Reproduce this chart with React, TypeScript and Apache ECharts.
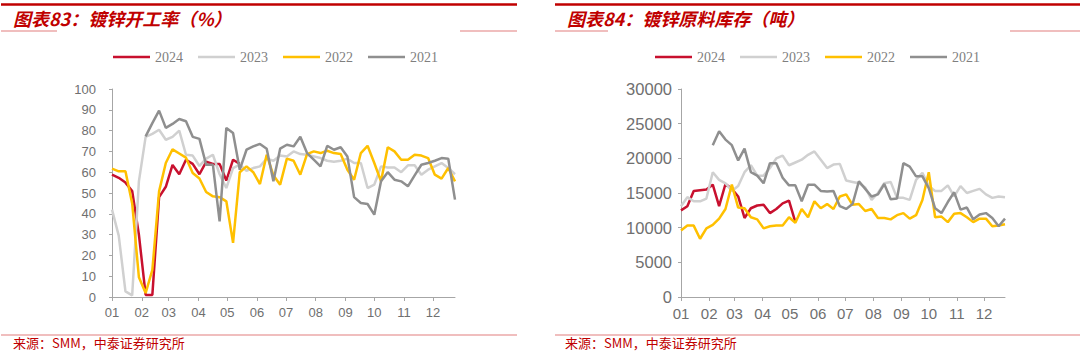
import React, { useEffect, useRef } from 'react';
import * as echarts from 'echarts';

// ---------- data ----------
const monthLabels = ['01', '02', '03', '04', '05', '06', '07', '08', '09', '10', '11', '12'];
const seriesNames = ['2024', '2023', '2022', '2021'];

// 镀锌开工率 (%) weekly
const rate2024 = [58.8, 57.3, 55, 51, 30, 1, 1, 48, 53, 63.5, 59, 66, 64, 59, 65, 64, 64, 56, 66, 64];
const rate2023 = [42, 29.5, 2.7, 0.8, 55.6, 77, 78.4, 80.4, 75.6, 77, 80, 68.4, 68, 63, 66.5, 68.4, 59, 52.4, 62, 63.6,
  60.7, 62, 62.8, 66.5, 65.5, 68, 67.6, 70, 68.7, 68.4, 67.6, 66.8, 65.5, 65, 65.5, 66.5, 64.4, 64.4, 52.4, 54,
  62.8, 62.3, 62.3, 60, 63.3, 63.3, 58.8, 61.2, 62.8, 64.4, 62, 59];
const rate2022 = [61.7, 60.4, 60.4, 45, 9.5, 1.9, 13, 50.8, 64.4, 71, 69, 67, 59.6, 57, 50.5, 48.4, 48, 46, 26, 60,
  62.8, 60, 54.3, 68.4, 58.5, 54, 66.5, 65.5, 58.8, 68.7, 70, 69.2, 70.3, 69.2, 68.7, 61.2, 56.4, 69.2, 72.7, 64.4,
  55.6, 72, 70, 66, 66, 68.4, 68, 66.8, 58.8, 56.9, 62, 55.6];
const rate2021 = [null, null, null, null, null, 77.2, 83.6, 89.6, 81.3, 83.2, 85.6, 84.5, 77, 76, 63.6, 63.6, 36.4, 81.3,
  78.8, 61.2, 70.8, 72.4, 73.6, 71.3, 55.6, 71.3, 73.2, 72.4, 77, 69.2, 66, 62.8, 72.7, 70.8, 72, 67.6, 48, 45.2,
  44.7, 39.6, 55.6, 60, 56.4, 55.6, 53.2, 58.5, 63.6, 64.4, 65.5, 66.8, 66.5, 46.8];

// 镀锌原料库存 (吨) weekly
const stock2024 = [12500, 13100, 15300, 15400, 15500, 16200, 13100, 16300, 15600, 14500, 11400, 12800, 13200, 13300,
  12100, 12700, 13500, 13900, 10800];
const stock2023 = [13100, 14400, 13800, 13800, 14200, 18000, 16900, 16400, 15300, 16000, 18000, 19000, 17500, 17500,
  18600, 20000, 20400, 19000, 19400, 19800, 20500, 21000, 19800, 18600, 19100, 19200, 16800, 16600, 16400, 15800,
  14000, 15000, 16400, 16600, 14300, 14300, 14000, 16900, 17900, 16000, 15300, 15300, 16100, 14500, 16000, 15000,
  15300, 15600, 14800, 14300, 14500, 14400];
const stock2022 = [9600, 10300, 10300, 8400, 9900, 10400, 11300, 12700, 16200, 12900, 12800, 11500, 11200, 9900, 10200,
  10300, 10300, 11500, 10700, 12700, 11500, 13800, 12800, 13400, 12700, 14500, 14800, 13300, 13400, 12400, 12700,
  11400, 11400, 11200, 11800, 12100, 11300, 11800, 14000, 18000, 11500, 11600, 10800, 12000, 12100, 11500, 10800,
  11300, 11300, 10200, 10300, 10500];
const stock2021 = [null, null, null, null, null, 21900, 23900, 22700, 21900, 19700, 21400, 18000, 17500, 16400, 19300,
  19300, 17200, 16100, 16100, 13800, 16200, 16200, 15300, 15200, 15300, 13100, 12700, 13400, 16700, 15600, 14500,
  14800, 16300, 14100, 14200, 19300, 18800, 17400, 17400, 15700, 12800, 12100, 13700, 15100, 12600, 12900, 11200,
  11900, 12100, 11400, 10200, 11300];

const leftTitle = '图表83：镀锌开工率（%）';
const rightTitle = '图表84：镀锌原料库存（吨）';
const sourceText = '来源：SMM，中泰证券研究所';

// ---------- helpers ----------
const DAY = 86400000;
const monthStarts = monthLabels.map((_, m) => (Date.UTC(2023, m, 1) - Date.UTC(2023, 0, 1)) / DAY);
const weekCount = rate2023.length;
const lastDay = (weekCount - 1) * 7;

const toPoints = (arr: (number | null)[]) =>
  arr.map((v, i) => (v == null ? null : [i * 7, v])).filter((p) => p !== null);

const colors = ['#C8102E', '#D0D0D0', '#FFC000', '#8F8F8F'];
const red = '#C00000';
const pink = '#EBA8A8';
const axisGray = '#A6A6A6';
const labelGray = '#6F6F6F';

export default function App() {
  const ref = useRef<HTMLDivElement>(null);

  useEffect(() => {
    if (!ref.current) return;
    const chart = echarts.init(ref.current, null, { renderer: 'svg' });

    const xAxis = (gridIndex: number, fontSize: number) => ({
      type: 'value',
      gridIndex,
      min: 0,
      max: lastDay,
      axisLine: { show: true, lineStyle: { color: axisGray, width: 1 } },
      axisTick: { show: true, customValues: monthStarts, length: 4, lineStyle: { color: axisGray } },
      axisLabel: {
        customValues: monthStarts,
        formatter: (v: number) => monthLabels[monthStarts.indexOf(v)] ?? '',
        color: labelGray,
        fontSize,
        fontFamily: 'Liberation Sans',
        margin: 9,
      },
      splitLine: { show: false },
    });

    const yAxis = (gridIndex: number, max: number, interval: number, fontSize: number, margin: number) => ({
      type: 'value',
      gridIndex,
      min: 0,
      max,
      interval,
      axisLine: { show: true, lineStyle: { color: axisGray, width: 1 } },
      axisTick: { show: true, length: 3, lineStyle: { color: axisGray } },
      axisLabel: {
        color: labelGray,
        fontSize,
        fontFamily: 'Liberation Sans',
        margin,
        formatter: (v: number) => String(v),
      },
      splitLine: { show: false },
    });

    const mkSeries = (data: (number | null)[][], gridIdx: number) =>
      data.map((arr, k) => ({
        name: seriesNames[k],
        type: 'line',
        xAxisIndex: gridIdx,
        yAxisIndex: gridIdx,
        data: toPoints(arr),
        symbol: 'none',
        showSymbol: false,
        lineStyle: { color: colors[k], width: 2.5 },
        itemStyle: { color: colors[k] },
      }));

    const legend = (left: number) => ({
      left,
      top: 45,
      icon: 'rect',
      itemWidth: 37,
      itemHeight: 2.5,
      itemGap: 15,
      data: seriesNames,
      textStyle: { fontFamily: 'Liberation Serif', fontSize: 14, color: '#7F7F7F' },
      selectedMode: false,
    });

    const hline = (x1: number, x2: number, y: number, color: string, w: number) => ({
      type: 'line',
      shape: { x1, y1: y, x2, y2: y },
      style: { stroke: color, lineWidth: w },
      silent: true,
    });

    const title = (x: number, text: string) => ({
      type: 'text',
      x,
      y: 18,
      style: {
        text,
        fill: red,
        fontSize: 18,
        fontWeight: 'bold',
        fontStyle: 'italic',
        fontFamily: 'Noto Sans CJK SC',
        verticalAlign: 'middle',
      },
    });

    const source = (x: number) => ({
      type: 'text',
      x,
      y: 342.5,
      style: {
        text: sourceText,
        fill: red,
        fontSize: 13,
        fontFamily: 'Noto Sans CJK SC',
        verticalAlign: 'middle',
      },
    });

    chart.setOption({
      animation: false,
      backgroundColor: '#ffffff',
      grid: [
        { left: 112, top: 89, width: 343, height: 208 },
        { left: 681, top: 89, width: 324, height: 208 },
      ],
      xAxis: [xAxis(0, 13), xAxis(1, 15)],
      yAxis: [yAxis(0, 100, 10, 13, 16), yAxis(1, 30000, 5000, 16.5, 9)],
      legend: [legend(108), legend(650)],
      series: [
        ...mkSeries([rate2024, rate2023, rate2022, rate2021], 0),
        ...mkSeries([stock2024, stock2023, stock2022, stock2021], 1),
      ],
      graphic: [
        hline(1, 517, 4.5, red, 2.7),
        hline(555, 1080, 4.5, red, 2.7),
        hline(1, 57, 31, pink, 1.5),
        hline(460, 517, 31, pink, 1.5),
        hline(555, 608, 31, pink, 1.5),
        hline(1010, 1080, 31, pink, 1.5),
        hline(1, 517, 335, pink, 1.5),
        hline(555, 1080, 335, pink, 1.5),
        title(13, leftTitle),
        title(567, rightTitle),
        source(13),
        source(565),
      ],
    });

    return () => chart.dispose();
  }, []);

  return (
    <div
      ref={ref}
      style={{ position: 'absolute', left: 0, top: 0, width: 1080, height: 351, background: '#fff' }}
    />
  );
}
